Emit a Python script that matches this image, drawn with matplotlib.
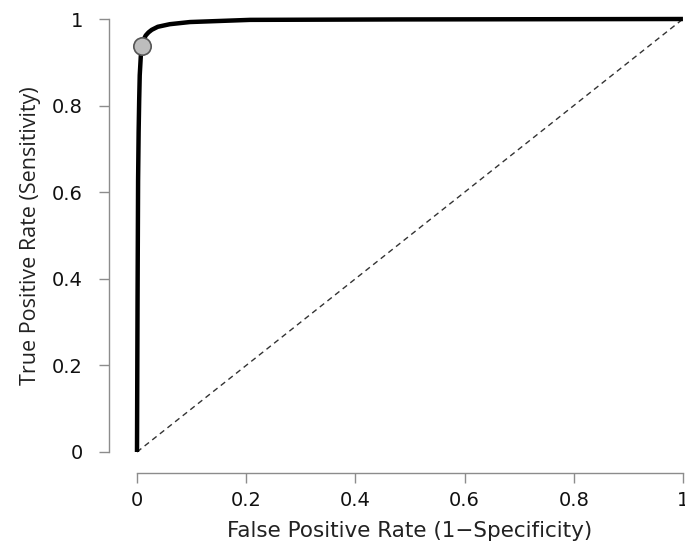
import matplotlib
matplotlib.use("Agg")
import matplotlib.pyplot as plt

# ROC curve points
fpr = [0.0, 0.001, 0.002, 0.003, 0.004, 0.005, 0.007, 0.009, 0.012, 0.016, 0.021,
       0.027, 0.038, 0.06, 0.097, 0.207, 0.48, 1.0]
tpr = [0.0, 0.351, 0.628, 0.74, 0.813, 0.87, 0.915, 0.937, 0.952, 0.962, 0.969,
       0.975, 0.982, 0.988, 0.993, 0.998, 0.999, 1.0]
cut_x, cut_y = 0.010, 0.938
ticks = [0, 0.2, 0.4, 0.6, 0.8, 1]
tick_labels = ["0", "0.2", "0.4", "0.6", "0.8", "1"]

fig = plt.figure(figsize=(6.85, 5.43), dpi=100)
ax = fig.add_axes([0.2, 0.1676, 0.797, 0.7974])

ax.plot([0, 1], [0, 1], ls=(0, (4, 3)), color="#333333", lw=1.0, clip_on=False)
ax.plot(fpr, tpr, color="black", lw=3.2, solid_capstyle="butt", solid_joinstyle="round",
        clip_on=False)
ax.plot([cut_x], [cut_y], "o", ms=12.5, mfc="#bdbdbd", mec="#555555", mew=1.2, clip_on=False)

ax.set_xlim(0, 1)
ax.set_ylim(0, 1)
for s in ["top", "right"]:
    ax.spines[s].set_visible(False)
ax.spines["left"].set_position(("outward", 20))
ax.spines["bottom"].set_position(("outward", 15))
for s in ["left", "bottom"]:
    ax.spines[s].set_color("#8c8c8c")
    ax.spines[s].set_linewidth(1.0)

ax.set_xticks(ticks)
ax.set_xticklabels(tick_labels)
ax.set_yticks(ticks)
ax.set_yticklabels(tick_labels)
ax.tick_params(axis="both", colors="#8c8c8c", labelcolor="#111111", length=7, width=1.0,
               labelsize=14)
ax.tick_params(axis="y", pad=12)
ax.tick_params(axis="x", pad=6)

ax.set_xlabel("False Positive Rate (1\u2212Specificity)", fontsize=15.5, color="#222222",
              labelpad=8)
ax.set_ylabel("True Positive Rate (Sensitivity)", fontsize=15.5, color="#222222", labelpad=8,
              family=["Open Sans", "DejaVu Sans"])

fig.savefig("out.png", dpi=100)
